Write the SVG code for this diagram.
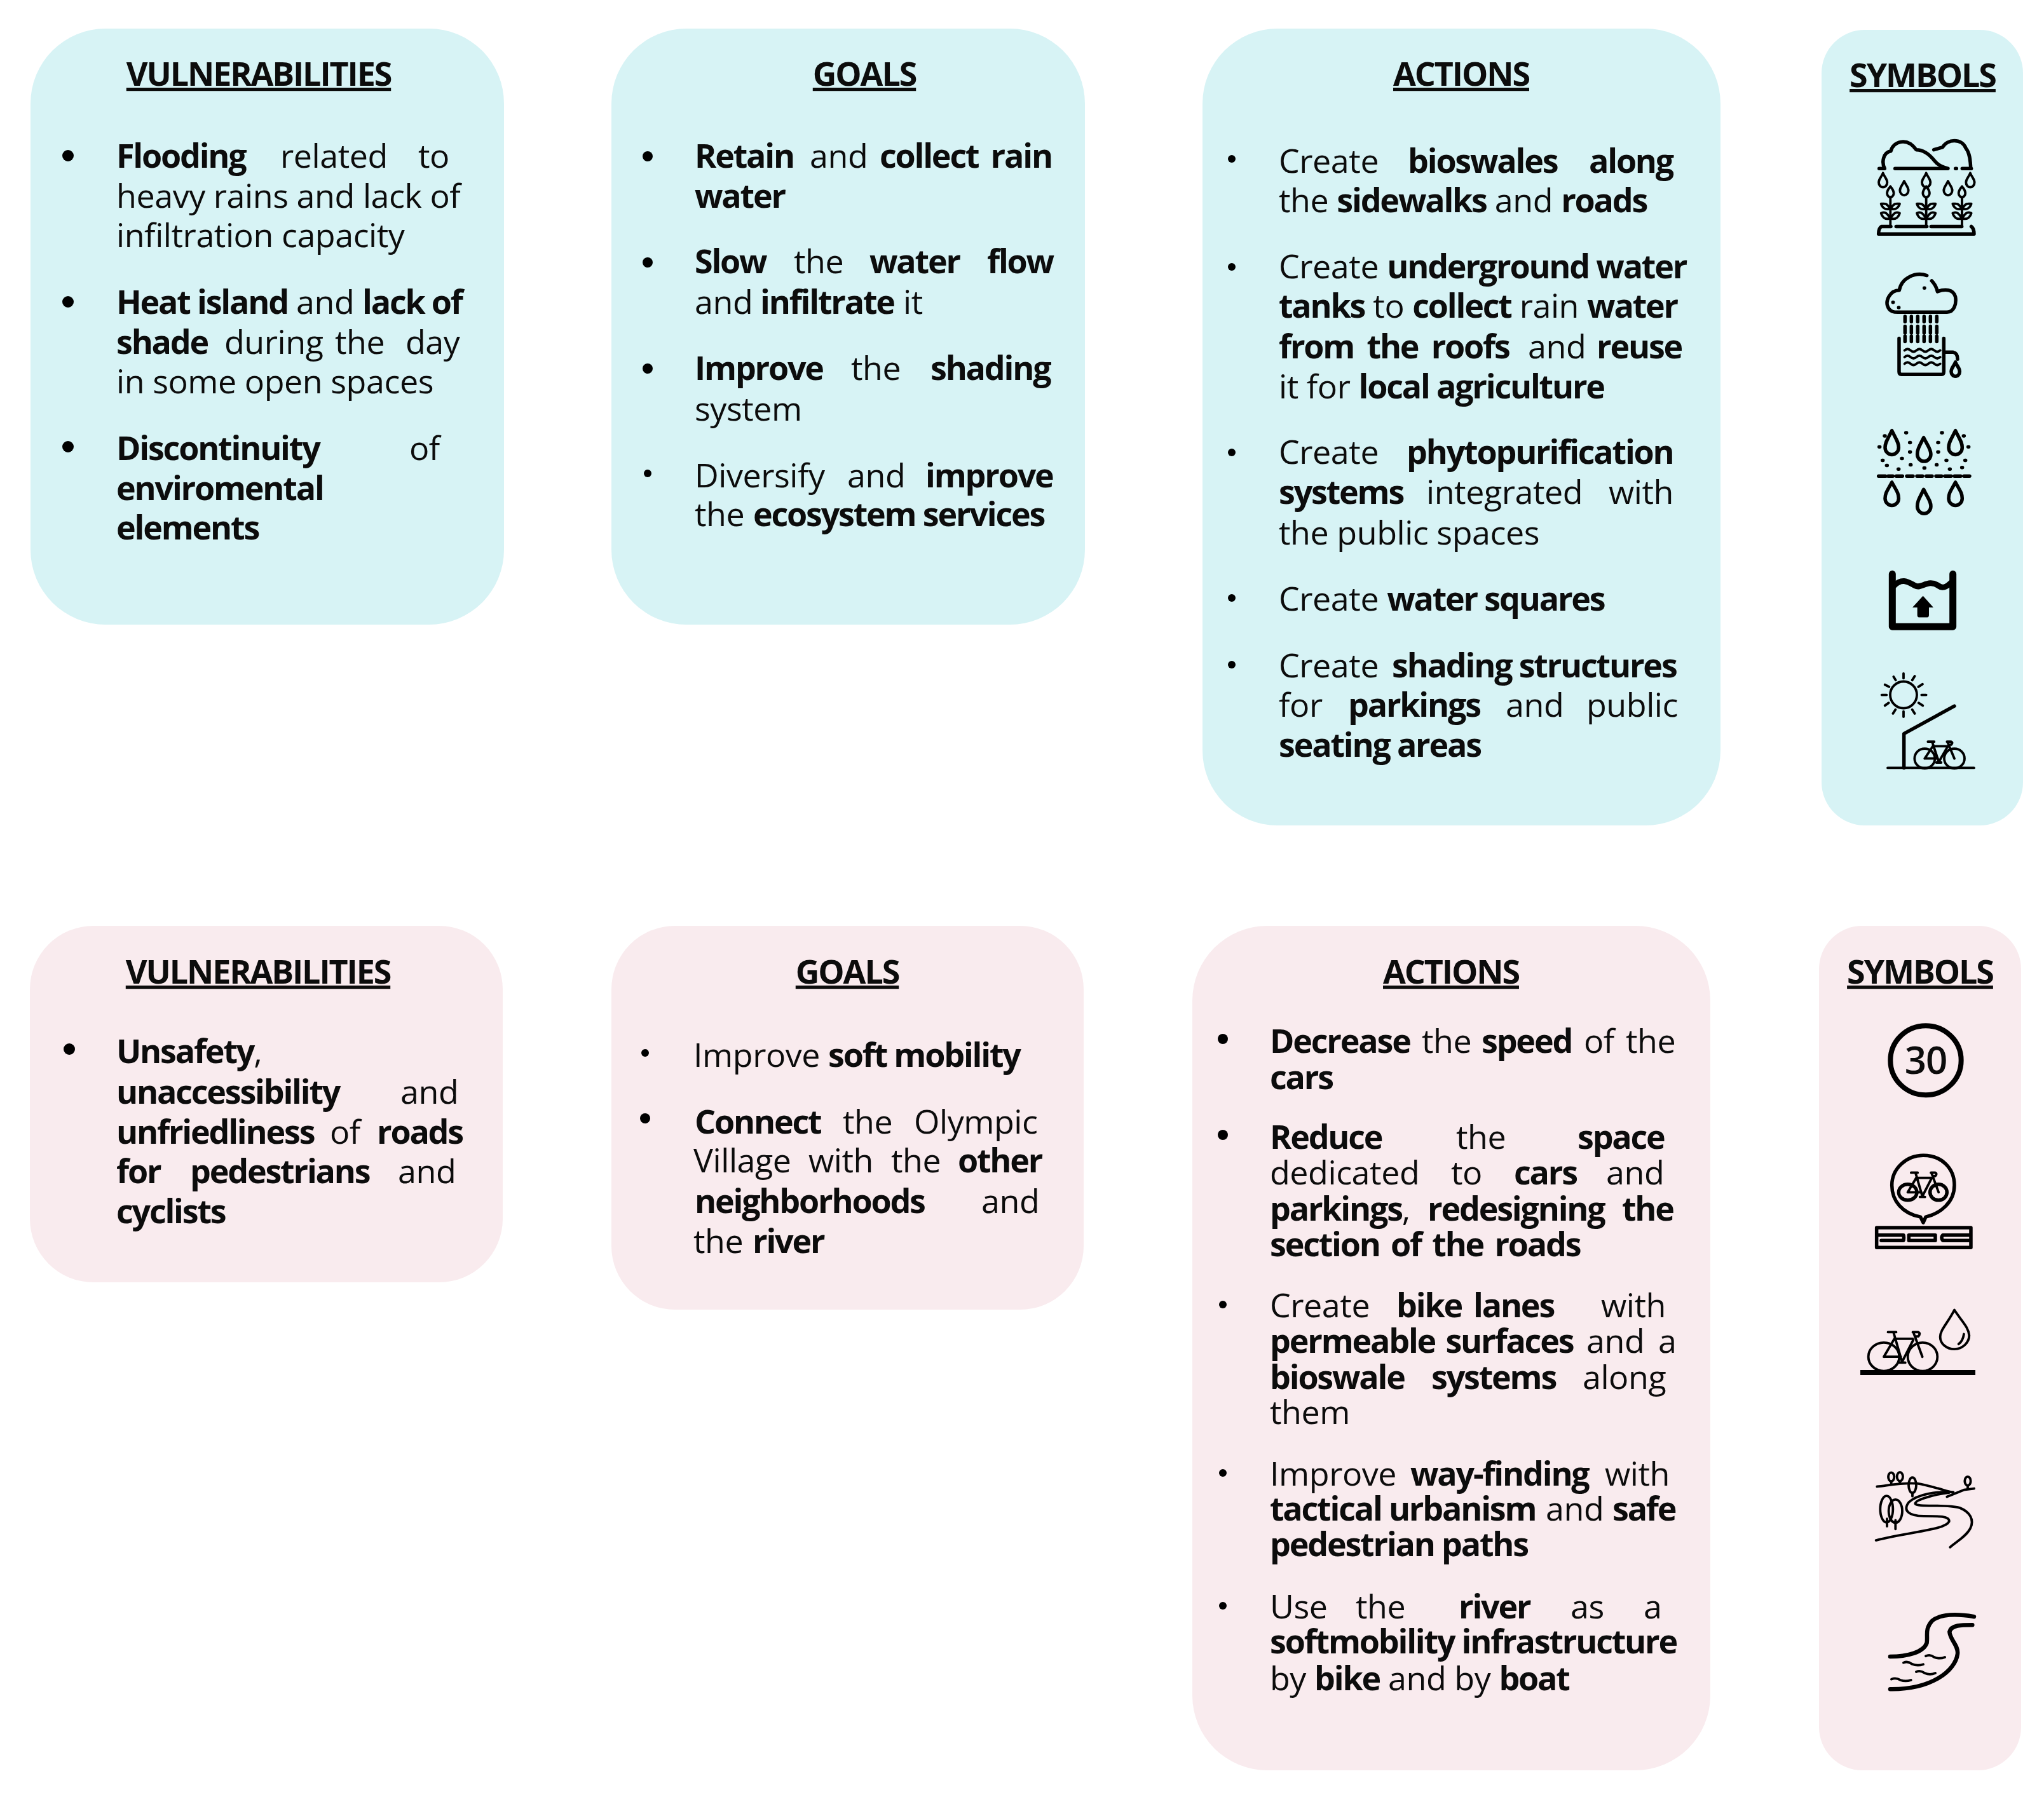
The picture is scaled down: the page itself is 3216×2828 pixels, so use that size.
<svg xmlns="http://www.w3.org/2000/svg" xmlns:xlink="http://www.w3.org/1999/xlink" width="3216" height="2828" viewBox="0 0 3216 2828">
<style>
text{font-family:"Open Sans","Noto Sans","Liberation Sans",sans-serif;fill:#0c0c0c}
.t{font-size:52px;letter-spacing:-.45px}
.h{font-size:52px;font-weight:700;letter-spacing:-2.1px;text-anchor:middle;text-decoration:underline}
.b{font-weight:700;letter-spacing:-2.2px}
.blue{fill:#d7f3f5}.pink{fill:#f9ebee}
.i *,#drop,#plant *,#wave,#frame{fill:none;stroke-linecap:round;stroke-linejoin:round;vector-effect:non-scaling-stroke}
.i *{stroke:#000;stroke-width:3.8}
.i .th{stroke-width:5.5}
.i .k{fill:#000;stroke:none}
</style>
<defs>
<path id="drop" d="M0 -26C8 -10 20 -4 20 9A20 18 0 1 1 -20 9C-20 -4 -8 -10 0 -26Z"/>
<g id="plant"><path d="M0 -80V30"/><path d="M0 -120C-22 -100 -20 -85 0 -78C20 -85 22 -100 0 -120Z"/><path d="M-4 -40C-20 -60 -30 -55 -44 -55C-38 -40 -24 -32 -4 -36M4 -40C20 -60 30 -55 44 -55C38 -40 24 -32 4 -36M-4 -5C-20 -25 -30 -25 -44 -20C-38 -5 -24 5 -4 0M4 -5C20 -25 30 -25 44 -20C38 -5 24 5 4 0"/></g>
<path id="wave" d="M0 0Q14 -10 28 0T56 0T84 0T112 0T140 0T168 0"/>
<path id="frame" d="M15 -63H45M35 -63L67 15M43 -46H105M107 -43L67 12M107 -63L140 0M105 -63H125Q135 -60 125 -52H118M0 0L40 -48M0 0H62M55 15H78"/>
</defs>

<g id="vulnerabilities-water">
<rect class="blue" x="48" y="45" width="745" height="938" rx="118"/>
<text class="h" x="407" y="135">VULNERABILITIES</text>
<circle cx="107" cy="245" r="9"/><circle cx="107" cy="475" r="9"/><circle cx="107" cy="703" r="9"/>
<text class="t" y="264"><tspan x="183" class="b">Flooding</tspan><tspan x="441">related</tspan><tspan x="658">to</tspan></text>
<text class="t" x="183" y="327">heavy rains and lack of</text>
<text class="t" x="183" y="389">infiltration capacity</text>
<text class="t" y="494"><tspan x="183" class="b">Heat island</tspan><tspan x="466">and</tspan><tspan x="570" class="b">lack of</tspan></text>
<text class="t" y="557"><tspan x="183" class="b">shade</tspan><tspan x="353">during</tspan><tspan x="527">the</tspan><tspan x="638">day</tspan></text>
<text class="t" x="183" y="619">in some open spaces</text>
<text class="t" y="724"><tspan x="183" class="b">Discontinuity</tspan><tspan x="644">of</tspan></text>
<text class="t b" x="183" y="787">enviromental</text>
<text class="t b" x="183" y="849">elements</text>
</g>

<g id="goals-water">
<rect class="blue" x="962" y="45" width="745" height="938" rx="118"/>
<text class="h" x="1360" y="135">GOALS</text>
<circle cx="1019" cy="246" r="8"/><circle cx="1019" cy="413" r="8"/><circle cx="1019" cy="580" r="8"/><circle cx="1019" cy="745" r="6"/>
<text class="t" y="264"><tspan x="1093" class="b">Retain</tspan><tspan x="1274">and</tspan><tspan x="1384" class="b" word-spacing="8">collect rain</tspan></text>
<text class="t b" x="1093" y="327">water</text>
<text class="t" y="430"><tspan x="1093" class="b">Slow</tspan><tspan x="1249">the</tspan><tspan x="1368" class="b">water</tspan><tspan x="1553" class="b">flow</tspan></text>
<text class="t" y="494"><tspan x="1093">and</tspan><tspan x="1196" class="b">infiltrate</tspan><tspan x="1421">it</tspan></text>
<text class="t" y="598"><tspan x="1093" class="b">Improve</tspan><tspan x="1339">the</tspan><tspan x="1464" class="b">shading</tspan></text>
<text class="t" x="1093" y="662">system</text>
<text class="t" y="767"><tspan x="1093">Diversify</tspan><tspan x="1333">and</tspan><tspan x="1456" class="b">improve</tspan></text>
<text class="t" y="828"><tspan x="1093">the</tspan><tspan x="1185" class="b">ecosystem services</tspan></text>
</g>

<g id="actions-water">
<rect class="blue" x="1892" y="45" width="815" height="1254" rx="118"/>
<text class="h" x="2299" y="135">ACTIONS</text>
<circle cx="1938" cy="250" r="6"/><circle cx="1938" cy="420" r="6"/><circle cx="1938" cy="712" r="6"/><circle cx="1938" cy="941" r="6"/><circle cx="1938" cy="1046" r="6"/>
<text class="t" y="272"><tspan x="2012">Create</tspan><tspan x="2215" class="b">bioswales</tspan><tspan x="2500" class="b">along</tspan></text>
<text class="t" x="2012" y="334">the <tspan class="b">sidewalks</tspan> and <tspan class="b">roads</tspan></text>
<text class="t" x="2012" y="438">Create <tspan class="b">underground water</tspan></text>
<text class="t" x="2012" y="500"><tspan class="b">tanks</tspan> to <tspan class="b">collect</tspan> rain <tspan class="b">water</tspan></text>
<text class="t" y="564"><tspan x="2012" class="b" word-spacing="9">from the roofs</tspan><tspan x="2404">and</tspan><tspan x="2512" class="b">reuse</tspan></text>
<text class="t" x="2012" y="627">it for <tspan class="b">local agriculture</tspan></text>
<text class="t" y="730"><tspan x="2012">Create</tspan><tspan x="2213" class="b">phytopurification</tspan></text>
<text class="t" y="793"><tspan x="2012" class="b">systems</tspan><tspan x="2244">integrated</tspan><tspan x="2531">with</tspan></text>
<text class="t" x="2012" y="857">the public spaces</text>
<text class="t" x="2012" y="961">Create <tspan class="b">water squares</tspan></text>
<text class="t" y="1066"><tspan x="2012">Create</tspan><tspan x="2190" class="b">shading structures</tspan></text>
<text class="t" y="1128"><tspan x="2012">for</tspan><tspan x="2121" class="b">parkings</tspan><tspan x="2369">and</tspan><tspan x="2496">public</tspan></text>
<text class="t b" x="2012" y="1191">seating areas</text>
</g>

<g id="symbols-water">
<rect class="blue" x="2866" y="47" width="317" height="1252" rx="68"/>
<text class="h" x="3025" y="137">SYMBOLS</text>
<g id="icon-rain-plants" class="i" transform="translate(2860 40) scale(.3333 .4209)">
<path class="th" d="M290 535H316C300 510 310 475 345 470C355 435 420 415 465 465C510 465 540 495 550 505C565 520 585 530 615 535H365M682 535H725M548 465L590 455C610 425 680 420 700 460C720 480 720 510 722 530M650 535H655"/>
<use xlink:href="#drop" href="#drop" x="308" y="578"/><use href="#drop" x="408" y="608"/><use href="#drop" x="512" y="578"/><use href="#drop" x="615" y="608"/><use href="#drop" x="720" y="578"/>
<use href="#plant" x="343" y="722"/><use href="#plant" x="512" y="722"/><use href="#plant" x="681" y="722"/>
<path class="th" d="M370 752H515M535 752H680M725 752Q738 760 738 780H287Q287 758 300 752H345"/>
</g>
<g id="icon-rain-tank" class="i" transform="translate(2860 40) scale(.3333 .4209)">
<path class="th" d="M515 935C460 920 395 945 385 990C340 990 320 1030 330 1050C340 1075 370 1072 385 1072H610C645 1072 655 1040 650 1015C640 985 600 985 565 995C560 975 550 965 538 955M503 982h1M355 1035h1M382 1055h1"/>
<path class="th" d="M412 1088V1108M442 1088V1108M472 1088V1108M502 1088V1108M532 1088V1108M562 1088V1108M412 1125V1150M442 1125V1150M472 1125V1150M502 1125V1150M532 1125V1150M562 1125V1150M412 1162V1182M442 1162V1182M472 1162V1182M502 1162V1182M532 1162V1182M562 1162V1182"/>
<path class="th" d="M384 1170V1295Q384 1305 395 1305H585Q595 1305 595 1295V1170M595 1222H640Q660 1225 660 1248"/>
<use href="#wave" x="410" y="1215"/><use href="#wave" x="410" y="1240"/><use href="#wave" x="410" y="1265"/>
<use href="#drop" x="650" y="1285" class="th"/>
</g>
<g id="icon-infiltration" class="i" transform="translate(2860 660) scale(.3333 .4209)">
<path class="th" d="M350 42C330 75 318 85 318 105A32 27 0 0 0 382 105C382 85 370 75 350 42ZM500 68C480 100 470 112 470 130A32 27 0 0 0 534 130C534 112 520 100 500 68ZM650 42C630 75 618 85 618 105A32 27 0 0 0 682 105C682 85 670 75 650 42ZM350 235C330 265 318 275 318 295A32 27 0 0 0 382 295C382 275 370 265 350 235ZM500 262C480 295 470 305 470 325A32 27 0 0 0 534 325C534 305 520 295 500 262ZM650 235C630 265 618 275 618 295A32 27 0 0 0 682 295C682 275 670 265 650 235Z"/>
<path class="th" d="M287 212H320M332 212H355M370 212H400M420 212H450M468 212H495M512 212H540M558 212H585M600 212H630M645 212H675M690 212H717"/>
<path class="th" d="M290 103h3M315 62h3M416 50h3M434 87h3M434 122h3M567 87h3M567 122h3M585 50h3M688 62h3M710 103h3M305 153h3M396 146h3M325 172h3M380 186h3M437 170h3M502 182h3M560 170h3M622 186h3M680 180h3M606 153h3M695 153h3"/>
</g>
<g id="icon-water-square" class="i" transform="translate(2860 660) scale(.3333 .4209)">
<path style="stroke-width:11" d="M352 578V775H638V578"/>
<path style="stroke-width:9" d="M360 622C400 590 430 610 460 622C490 635 520 595 570 622C590 635 610 625 630 610"/>
<path class="k" d="M497 660L546 703H525V732Q525 740 517 740H478Q470 740 470 732V703H447Z"/>
</g>
<g id="icon-shade" class="i" transform="translate(2860 660) scale(.3333 .4209)">
<ellipse cx="405" cy="1030" rx="63" ry="50"/>
<path d="M405 950V968M405 1092V1112M302 1030H325M490 1030H512M358 962L368 975M458 960L446 975M317 992L337 1000M495 990L475 1000M317 1070L335 1060M496 1070L476 1060M355 1100L367 1085M458 1100L446 1085"/>
<path class="th" d="M407 1303V1175L645 1072"/>
<path d="M330 1303H738"/>
<ellipse cx="505" cy="1268" rx="48" ry="37"/><ellipse cx="645" cy="1268" rx="48" ry="37"/>
<use href="#frame" transform="translate(505 1268)"/>
</g>
</g>

<g id="vulnerabilities-mobility">
<rect class="pink" x="47" y="1457" width="744" height="561" rx="100"/>
<text class="h" x="406" y="1548">VULNERABILITIES</text>
<circle cx="109" cy="1651" r="9"/>
<text class="t" x="183" y="1673"><tspan class="b">Unsafety</tspan>,</text>
<text class="t" y="1737"><tspan x="183" class="b">unaccessibility</tspan><tspan x="630">and</tspan></text>
<text class="t" y="1800"><tspan x="183" class="b">unfriedliness</tspan><tspan x="519">of</tspan><tspan x="593" class="b">roads</tspan></text>
<text class="t" y="1862"><tspan x="183" class="b">for</tspan><tspan x="299" class="b">pedestrians</tspan><tspan x="626">and</tspan></text>
<text class="t b" x="183" y="1925">cyclists</text>
</g>

<g id="goals-mobility">
<rect class="pink" x="962" y="1457" width="743" height="604" rx="100"/>
<text class="h" x="1333" y="1548">GOALS</text>
<circle cx="1015" cy="1657" r="6"/><circle cx="1015" cy="1760" r="8"/>
<text class="t" x="1091" y="1679">Improve <tspan class="b">soft mobility</tspan></text>
<text class="t" y="1784"><tspan x="1093" class="b">Connect</tspan><tspan x="1326">the</tspan><tspan x="1438">Olympic</tspan></text>
<text class="t" y="1845"><tspan x="1091">Village</tspan><tspan x="1272">with</tspan><tspan x="1402">the</tspan><tspan x="1507" class="b">other</tspan></text>
<text class="t" y="1909"><tspan x="1093" class="b">neighborhoods</tspan><tspan x="1544">and</tspan></text>
<text class="t" y="1972"><tspan x="1091">the</tspan><tspan x="1184" class="b">river</tspan></text>
</g>

<g id="actions-mobility">
<rect class="pink" x="1876" y="1457" width="815" height="1329" rx="118"/>
<text class="h" x="2283" y="1548">ACTIONS</text>
<circle cx="1924" cy="1635" r="8"/><circle cx="1924" cy="1786" r="8"/><circle cx="1924" cy="2053" r="6"/><circle cx="1924" cy="2318" r="6"/><circle cx="1924" cy="2527" r="6"/>
<text class="t" y="1657"><tspan x="1998" class="b">Decrease</tspan><tspan x="2237">the</tspan><tspan x="2331" class="b">speed</tspan><tspan x="2492">of</tspan><tspan x="2558">the</tspan></text>
<text class="t b" x="1998" y="1714">cars</text>
<text class="t" y="1808"><tspan x="1998" class="b">Reduce</tspan><tspan x="2291">the</tspan><tspan x="2482" class="b">space</tspan></text>
<text class="t" y="1864"><tspan x="1998">dedicated</tspan><tspan x="2283">to</tspan><tspan x="2382" class="b">cars</tspan><tspan x="2527">and</tspan></text>
<text class="t" y="1921"><tspan x="1998" class="b">parkings</tspan>,<tspan x="2246" class="b">redesigning</tspan><tspan x="2552" class="b">the</tspan></text>
<text class="t b" x="1998" y="1977" word-spacing="6">section of the roads</text>
<text class="t" y="2073"><tspan x="1998">Create</tspan><tspan x="2197" class="b">bike</tspan><tspan x="2318" class="b">lanes</tspan><tspan x="2519">with</tspan></text>
<text class="t" y="2129"><tspan x="1998" class="b" word-spacing="5">permeable surfaces</tspan><tspan x="2496">and</tspan><tspan x="2609">a</tspan></text>
<text class="t" y="2186"><tspan x="1998" class="b">bioswale</tspan><tspan x="2252" class="b">systems</tspan><tspan x="2490">along</tspan></text>
<text class="t" x="1998" y="2241">them</text>
<text class="t" y="2338"><tspan x="1998">Improve</tspan><tspan x="2219" class="b">way-finding</tspan><tspan x="2525">with</tspan></text>
<text class="t" y="2393"><tspan x="1998" class="b">tactical urbanism</tspan><tspan x="2432">and</tspan><tspan x="2537" class="b">safe</tspan></text>
<text class="t b" x="1998" y="2449">pedestrian paths</text>
<text class="t" y="2547"><tspan x="1998">Use</tspan><tspan x="2133">the</tspan><tspan x="2295" class="b">river</tspan><tspan x="2471">as</tspan><tspan x="2586">a</tspan></text>
<text class="t b" x="1998" y="2602">softmobility infrastructure</text>
<text class="t" x="1998" y="2660">by <tspan class="b">bike</tspan> and by <tspan class="b">boat</tspan></text>
</g>

<g id="symbols-mobility">
<rect class="pink" x="2862" y="1457" width="318" height="1329" rx="68"/>
<text class="h" x="3021" y="1548">SYMBOLS</text>
<g id="icon-speed-30" class="i" transform="translate(2860 1450) scale(.3333 .4464)">
<ellipse cx="510" cy="490" rx="167" ry="122" style="stroke-width:8"/>
</g>
<text x="3030" y="1690" text-anchor="middle" font-size="60" font-weight="600" letter-spacing="-1">30</text>
<g id="icon-bike-lane" class="i" transform="translate(2860 1450) scale(.3333 .4464)">
<path class="th" d="M498 1062L485 1042C400 1030 350 985 350 930C350 870 420 825 498 825C585 825 645 870 645 930C645 990 580 1030 510 1042Z"/>
<ellipse cx="425" cy="955" rx="43" ry="28" class="th"/><ellipse cx="570" cy="955" rx="40" ry="28" class="th"/>
<use href="#frame" transform="translate(425 955) scale(1.04 1.1)"/>
<path class="th" d="M278 1080H723V1150H278ZM278 1106H405Q408 1115 405 1125H300M430 1106H555V1125H430ZM723 1106H590Q580 1115 590 1125H723"/>
</g>
<g id="icon-bike-water" class="i" transform="translate(2860 1450) scale(.3333 .4464)">
<ellipse cx="312" cy="1535" rx="73" ry="50"/><ellipse cx="495" cy="1535" rx="70" ry="50"/>
<use href="#frame" transform="translate(312 1535) scale(1.3 1.38)"/>
<path d="M645 1370C610 1420 578 1440 578 1465C578 1490 610 1508 645 1508C690 1508 715 1480 715 1460C712 1430 680 1410 645 1370Z"/>
<path d="M665 1490Q685 1480 690 1455"/>
</g>
<rect x="2927" y="2156" width="181" height="8"/>
<g id="icon-landscape" class="i" transform="translate(2860 2130) scale(.3333 .4337)">
<path d="M280 483C340 478 400 468 470 472C520 478 590 495 640 505M610 520L690 495L738 490"/>
<ellipse cx="347" cy="448" rx="14" ry="16"/><ellipse cx="388" cy="447" rx="14" ry="16"/><ellipse cx="447" cy="478" rx="18" ry="28"/><ellipse cx="708" cy="463" rx="14" ry="16"/>
<path d="M347 464V472M388 463V470M447 506V518M708 480V490"/>
<ellipse cx="325" cy="565" rx="30" ry="48"/><ellipse cx="367" cy="572" rx="32" ry="42"/>
<path d="M327 600V627M367 605V637"/>
<path d="M640 503C560 500 470 510 430 540C400 570 430 590 500 590C570 590 625 590 620 610C600 640 450 645 275 678"/>
<path d="M620 505C560 510 460 530 460 545C470 560 600 545 670 560C720 575 740 605 720 635C700 665 650 685 625 703"/>
</g>
<g id="icon-river" class="i" transform="translate(2860 2130) scale(.3333 .4337)">
<path style="stroke-width:6.5" d="M342 1100C420 1100 500 1085 515 1050C520 1020 505 1000 540 970C580 945 660 945 738 955M730 985C680 985 630 985 622 1010C625 1040 665 1060 660 1090C650 1150 540 1220 342 1218"/>
<path d="M510 1098Q530 1090 550 1102Q575 1110 600 1102M405 1122Q425 1115 445 1127Q470 1135 498 1128M465 1155Q485 1148 505 1160Q530 1168 555 1160M348 1182Q368 1175 390 1185Q415 1192 440 1185"/>
</g>
</g>
</svg>
